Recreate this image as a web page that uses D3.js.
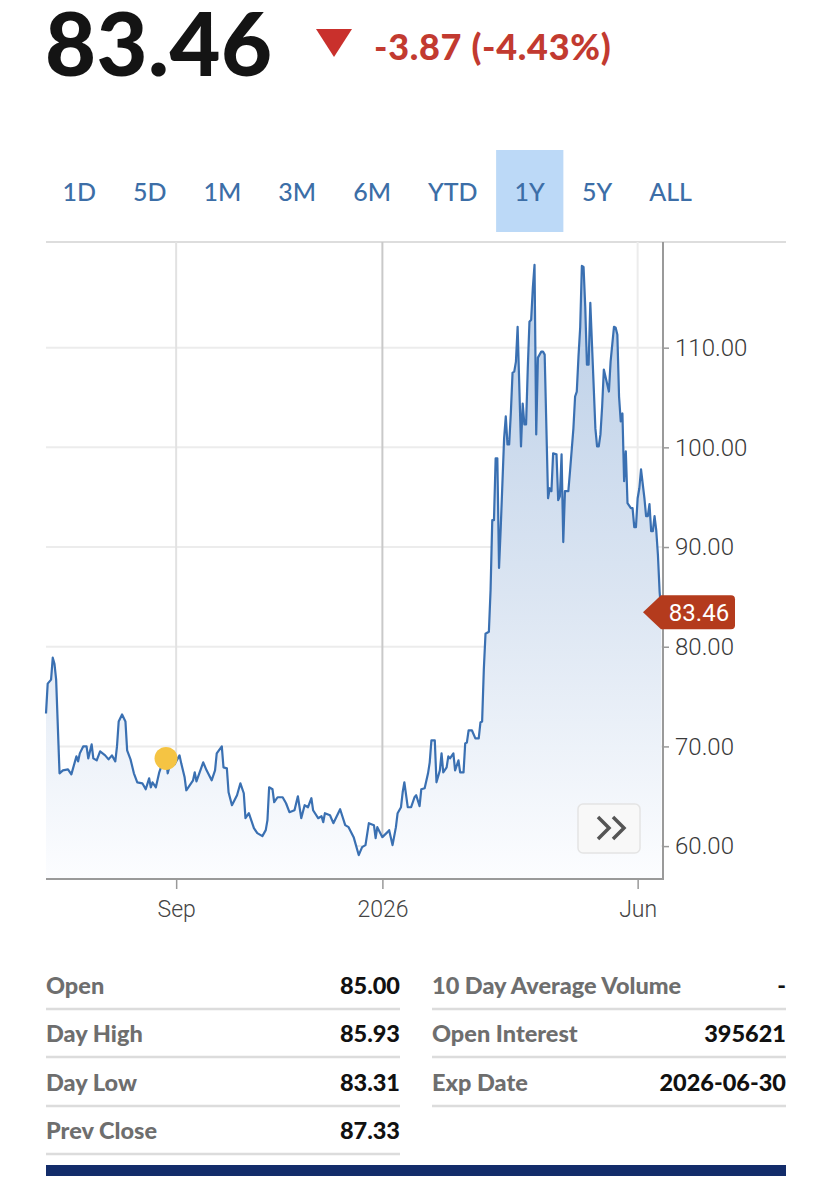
<!DOCTYPE html>
<html>
<head>
<meta charset="utf-8">
<script src="https://cdn.jsdelivr.net/npm/d3@7"></script>
<style>
  body { margin: 0; background: #fff; }
  svg { display: block; }
</style>
</head>
<body>
<svg id="chart" width="832" height="1200"></svg>
<script>
// daily settles
var priceDates = [
  "2025-06-16","2025-06-17","2025-06-19","2025-06-20","2025-06-21","2025-06-22","2025-06-24","2025-06-26","2025-06-29",
  "2025-07-01","2025-07-04","2025-07-05","2025-07-06","2025-07-08","2025-07-10","2025-07-11","2025-07-13","2025-07-14",
  "2025-07-16","2025-07-18","2025-07-21","2025-07-23","2025-07-25","2025-07-27","2025-07-28","2025-07-29","2025-07-31",
  "2025-08-02","2025-08-03","2025-08-05","2025-08-07","2025-08-09","2025-08-12","2025-08-14","2025-08-16","2025-08-17",
  "2025-08-18","2025-08-20","2025-08-22","2025-08-23","2025-08-26","2025-08-27","2025-08-29","2025-08-31",
  "2025-09-03","2025-09-04","2025-09-06","2025-09-07","2025-09-11","2025-09-12","2025-09-13","2025-09-17","2025-09-19",
  "2025-09-22","2025-09-24","2025-09-25","2025-09-28","2025-09-29",
  "2025-10-01","2025-10-02","2025-10-04","2025-10-07","2025-10-09","2025-10-11","2025-10-12","2025-10-14","2025-10-17",
  "2025-10-19","2025-10-22","2025-10-24","2025-10-25","2025-10-26","2025-10-28","2025-10-29","2025-10-31",
  "2025-11-03","2025-11-05","2025-11-07","2025-11-10","2025-11-12","2025-11-14","2025-11-16","2025-11-18","2025-11-20",
  "2025-11-21","2025-11-24","2025-11-26","2025-11-27","2025-11-28",
  "2025-12-01","2025-12-03","2025-12-05","2025-12-07","2025-12-10","2025-12-12","2025-12-15","2025-12-18","2025-12-20",
  "2025-12-22","2025-12-24","2025-12-27","2025-12-28","2025-12-29",
  "2026-01-01","2026-01-04","2026-01-05","2026-01-07","2026-01-09","2026-01-10","2026-01-12","2026-01-13","2026-01-14",
  "2026-01-16","2026-01-18","2026-01-20","2026-01-21","2026-01-23","2026-01-24","2026-01-26","2026-01-28","2026-01-29",
  "2026-01-30",
  "2026-02-01","2026-02-02","2026-02-04","2026-02-05","2026-02-06","2026-02-08","2026-02-09","2026-02-10","2026-02-12",
  "2026-02-13","2026-02-15","2026-02-16","2026-02-18","2026-02-19","2026-02-20","2026-02-21","2026-02-23","2026-02-25",
  "2026-02-27","2026-02-28",
  "2026-03-01","2026-03-02","2026-03-03","2026-03-05","2026-03-06","2026-03-07","2026-03-08","2026-03-09","2026-03-10",
  "2026-03-11","2026-03-12","2026-03-14","2026-03-15","2026-03-16","2026-03-17","2026-03-18","2026-03-19","2026-03-20",
  "2026-03-21","2026-03-22","2026-03-24","2026-03-25","2026-03-26","2026-03-27","2026-03-28","2026-03-29","2026-03-30",
  "2026-03-31",
  "2026-04-01","2026-04-02","2026-04-03","2026-04-05","2026-04-06","2026-04-07","2026-04-09","2026-04-10","2026-04-11",
  "2026-04-12","2026-04-14","2026-04-15","2026-04-16","2026-04-17","2026-04-18","2026-04-19","2026-04-21","2026-04-22",
  "2026-04-24","2026-04-25","2026-04-26","2026-04-27","2026-04-28","2026-04-29","2026-04-30",
  "2026-05-01","2026-05-02","2026-05-03","2026-05-04","2026-05-05","2026-05-07","2026-05-08","2026-05-09","2026-05-10",
  "2026-05-11","2026-05-12","2026-05-15","2026-05-16","2026-05-18","2026-05-19","2026-05-20","2026-05-21","2026-05-22",
  "2026-05-23","2026-05-24","2026-05-25","2026-05-26","2026-05-28","2026-05-29","2026-05-30","2026-05-31",
  "2026-06-01","2026-06-02","2026-06-03","2026-06-05","2026-06-06","2026-06-07","2026-06-08","2026-06-09","2026-06-10",
  "2026-06-11","2026-06-12","2026-06-13","2026-06-14","2026-06-15"
];
var priceValues = [
  73.3,76.3,76.7,78.9,78.3,76.7,67.3,67.6,67.7,
  67.2,69.0,68.5,69.3,70.0,70.0,68.8,70.2,68.8,
  68.6,69.5,69.1,68.7,69.1,68.5,70.0,72.5,73.2,
  72.5,69.6,68.7,67.3,66.4,66.3,65.7,66.8,65.9,
  66.4,65.9,67.4,67.9,68.8,67.3,68.6,68.2,
  69.1,68.3,66.9,65.6,66.6,67.4,66.5,68.4,67.6,
  66.6,67.6,69.3,70.0,67.9,
  67.8,65.4,64.1,65.1,66.3,65.3,62.8,63.3,61.8,
  61.3,61.0,61.6,62.6,65.9,65.7,64.4,64.9,
  64.9,64.3,63.4,63.6,65.0,62.8,64.1,63.9,64.8,
  63.6,62.8,63.0,62.4,63.3,
  63.1,62.3,63.0,63.7,62.1,61.9,60.9,59.1,59.9,
  60.1,62.3,62.1,60.8,61.9,
  60.9,61.4,61.6,60.1,61.9,63.3,63.9,65.4,66.4,
  63.9,63.9,64.9,65.1,64.0,65.7,65.8,67.3,68.4,
  70.6,
  70.6,66.4,67.6,69.3,67.4,67.9,69.0,68.8,69.3,
  67.6,68.6,67.4,67.4,70.3,70.4,71.6,71.6,70.8,
  70.8,72.4,
  72.5,77.7,81.3,81.5,85.7,92.7,92.7,98.9,98.9,
  87.9,91.9,100.9,103.1,100.3,100.3,103.5,107.5,107.6,
  108.6,112.1,100.1,104.4,102.3,102.3,107.9,112.6,112.8,
  116.0,
  118.3,101.3,109.0,109.6,109.6,109.3,94.9,95.9,95.6,
  99.4,99.3,94.7,95.1,99.3,90.5,95.6,95.6,97.6,
  101.9,105.1,105.6,109.1,112.0,118.2,118.1,
  114.1,108.3,108.3,114.5,110.3,101.9,100.1,100.1,101.3,
  104.1,107.8,105.6,108.6,112.1,112.0,111.3,105.1,102.6,
  103.4,96.6,99.6,94.4,93.9,93.9,92.0,92.0,
  94.9,95.9,97.8,94.9,93.1,93.1,94.3,91.6,91.6,
  93.1,91.7,89.2,85.5,83.46
];

var yTicks = [60, 70, 80, 90, 100, 110];
var xTickDates = ["2025-09-01", "2026-01-01", "2026-06-01"];
var xTickLabels = ["Sep", "2026", "Jun"];
var ranges = ["1D", "5D", "1M", "3M", "6M", "YTD", "1Y", "5Y", "ALL"];
var activeRange = "1Y";
var lastPrice = 83.46;
var changeText = "-3.87 (-4.43%)";
var markerDate = "2025-08-26";
var statLabelsLeft = ["Open", "Day High", "Day Low", "Prev Close"];
var statValuesLeft = ["85.00", "85.93", "83.31", "87.33"];
var statLabelsRight = ["10 Day Average Volume", "Open Interest", "Exp Date"];
var statValuesRight = ["-", "395621", "2026-06-30"];

var parse = d3.timeParse("%Y-%m-%d");
var data = priceDates.map(function(d, i) { return { date: parse(d), value: priceValues[i] }; });

var svg = d3.select("#chart");
var bold = "Lato, 'Open Sans', sans-serif";
var light = "Roboto, 'Noto Sans', sans-serif";

// header
svg.append("text")
  .attr("x", 45).attr("y", 76)
  .attr("font-family", bold).attr("font-weight", 900).attr("font-size", 88)
  .attr("letter-spacing", 0.5)
  .attr("fill", "#141414")
  .text(d3.format(".2f")(lastPrice));

svg.append("path")
  .attr("d", "M316,29 L352,29 L334,57 Z")
  .attr("fill", "#c9302c");

svg.append("text")
  .attr("x", 374).attr("y", 60)
  .attr("font-family", bold).attr("font-weight", 900).attr("font-size", 36)
  .attr("letter-spacing", 0.7)
  .attr("fill", "#c23a30")
  .text(changeText);

// range tabs
var tabG = svg.append("g");
var tabX = 44;
ranges.forEach(function(r) {
  var t = tabG.append("text")
    .attr("y", 201)
    .attr("font-family", bold).attr("font-weight", 500).attr("font-size", 25)
    .attr("fill", "#3c6ea7")
    .attr("text-anchor", "middle")
    .text(r);
  var w = t.node().getComputedTextLength() + 37;
  t.attr("x", tabX + w / 2);
  if (r === activeRange) {
    tabG.insert("rect", "text")
      .attr("x", tabX).attr("y", 150).attr("width", w).attr("height", 82)
      .attr("fill", "#bcd9f7");
  }
  tabX += w;
});

// chart
var plotL = 46, plotR = 663, plotT = 242, plotB = 879;
var x = d3.scaleTime()
  .domain([parse("2025-06-16"), parse("2026-06-16")])
  .range([plotL, plotR]);
var y = d3.scaleLinear()
  .domain([56.7, 120.6])
  .range([plotB, plotT]);

svg.append("line")
  .attr("x1", plotL).attr("x2", 786).attr("y1", plotT).attr("y2", plotT)
  .attr("stroke", "#dddddd").attr("stroke-width", 2);

svg.append("g").selectAll("line").data(yTicks).enter().append("line")
  .attr("x1", plotL).attr("x2", plotR)
  .attr("y1", function(d) { return y(d); }).attr("y2", function(d) { return y(d); })
  .attr("stroke", "#ececec").attr("stroke-width", 2);

var gridColors = ["#e2e2e2", "#c9c9c9", "#ececec"];
svg.append("g").selectAll("line").data(xTickDates).enter().append("line")
  .attr("x1", function(d) { return x(parse(d)); }).attr("x2", function(d) { return x(parse(d)); })
  .attr("y1", plotT).attr("y2", plotB)
  .attr("stroke", function(d, i) { return gridColors[i]; }).attr("stroke-width", 2);

var grad = svg.append("defs").append("linearGradient")
  .attr("id", "fade").attr("gradientUnits", "userSpaceOnUse")
  .attr("x1", 0).attr("x2", 0).attr("y1", plotT).attr("y2", plotB);
grad.append("stop").attr("offset", 0).attr("stop-color", "#b7cce6");
grad.append("stop").attr("offset", 0.55).attr("stop-color", "#dbe5f2");
grad.append("stop").attr("offset", 1).attr("stop-color", "#fcfdff");

var area = d3.area()
  .x(function(d) { return x(d.date); })
  .y0(plotB)
  .y1(function(d) { return y(d.value); });
var line = d3.line()
  .x(function(d) { return x(d.date); })
  .y(function(d) { return y(d.value); });

svg.append("path").datum(data).attr("d", area).attr("fill", "url(#fade)");
svg.append("path").datum(data).attr("d", line)
  .attr("fill", "none").attr("stroke", "#3a70b2").attr("stroke-width", 2.2)
  .attr("stroke-linejoin", "round");

// event marker
var mk = data[priceDates.indexOf(markerDate)];
svg.append("circle")
  .attr("cx", x(mk.date)).attr("cy", y(mk.value)).attr("r", 11.5)
  .attr("fill", "#f5c443");

// axes
var yAxis = svg.append("g")
  .attr("transform", "translate(" + plotR + ",0)")
  .call(d3.axisRight(y).tickValues(yTicks).tickFormat(d3.format(".2f")).tickSize(6).tickPadding(6));
yAxis.select(".domain").remove();
yAxis.selectAll(".tick line").attr("stroke", "#999").attr("stroke-width", 1.5);
yAxis.selectAll("text")
  .attr("font-family", light).attr("font-weight", 300).attr("font-size", 24).attr("fill", "#3a3a3a");

svg.append("line")
  .attr("x1", plotR).attr("x2", plotR).attr("y1", plotT).attr("y2", plotB + 1)
  .attr("stroke", "#9a9a9a").attr("stroke-width", 2);

var xAxis = svg.append("g")
  .attr("transform", "translate(0," + plotB + ")")
  .call(d3.axisBottom(x).tickValues(xTickDates.map(parse))
    .tickFormat(function(d, i) { return xTickLabels[i]; }).tickSize(10).tickPadding(8));
xAxis.select(".domain").remove();
xAxis.selectAll(".tick line").attr("stroke", "#999").attr("stroke-width", 1.5);
xAxis.selectAll("text")
  .attr("font-family", light).attr("font-weight", 300).attr("font-size", 23).attr("fill", "#444")
  .attr("dy", "0.85em");

svg.append("line")
  .attr("x1", plotL).attr("x2", plotR + 1).attr("y1", plotB).attr("y2", plotB)
  .attr("stroke", "#9a9a9a").attr("stroke-width", 2);

// last price tag
var ty = y(lastPrice);
svg.append("path")
  .attr("d", "M" + (plotR - 20) + "," + ty + " L" + (plotR - 2) + "," + (ty - 17) +
    " L731," + (ty - 17) + " Q735," + (ty - 17) + " 735," + (ty - 13) +
    " L735," + (ty + 13) + " Q735," + (ty + 17) + " 731," + (ty + 17) +
    " L" + (plotR - 2) + "," + (ty + 17) + " Z")
  .attr("fill", "#b43b1d");
svg.append("text")
  .attr("x", 699).attr("y", ty + 8.5)
  .attr("text-anchor", "middle")
  .attr("font-family", light).attr("font-weight", 400).attr("font-size", 24)
  .attr("fill", "#fff")
  .text(d3.format(".2f")(lastPrice));

// scroll button
svg.append("rect")
  .attr("x", 578).attr("y", 804).attr("width", 62).attr("height", 49).attr("rx", 5)
  .attr("fill", "#f8f8f8").attr("stroke", "#e4e4e4").attr("stroke-width", 1.5);
svg.append("path")
  .attr("d", "M598,817 L609,828 L598,839 M613,817 L624,828 L613,839")
  .attr("fill", "none").attr("stroke", "#555").attr("stroke-width", 3.5);

// stats table
var rowY = [994, 1042, 1091, 1139];
function statColumn(labels, values, x0, x1) {
  labels.forEach(function(l, i) {
    svg.append("text")
      .attr("x", x0).attr("y", rowY[i])
      .attr("font-family", bold).attr("font-weight", 900).attr("font-size", 23.5)
      .attr("fill", "#6e6e6e").text(l);
    svg.append("text")
      .attr("x", x1).attr("y", rowY[i]).attr("text-anchor", "end")
      .attr("font-family", bold).attr("font-weight", 900).attr("font-size", 23.5)
      .attr("fill", "#111").text(values[i]);
    svg.append("line")
      .attr("x1", x0).attr("x2", x1).attr("y1", rowY[i] + 15).attr("y2", rowY[i] + 15)
      .attr("stroke", "#dcdcdc").attr("stroke-width", 2.5);
  });
}
statColumn(statLabelsLeft, statValuesLeft, 46, 400);
statColumn(statLabelsRight, statValuesRight, 432, 786);

svg.append("rect")
  .attr("x", 46).attr("y", 1165).attr("width", 740).attr("height", 11)
  .attr("fill", "#132c6a");
</script>
</body>
</html>
